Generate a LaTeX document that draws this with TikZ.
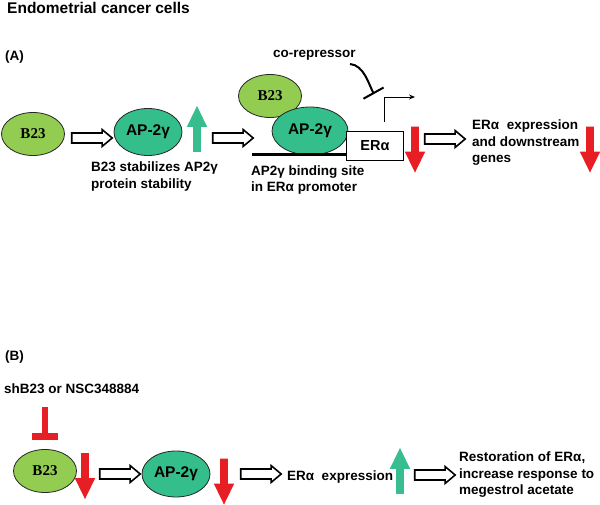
\documentclass[tikz,border=0pt]{standalone}
\usepackage{fontspec}
\setmainfont{Liberation Sans}
\newfontfamily\timesfont{Liberation Serif}
\usetikzlibrary{shapes.geometric,shapes.arrows,arrows.meta}

\definecolor{b23fill}{RGB}{146,204,80}
\definecolor{ap2fill}{RGB}{52,190,140}
\definecolor{upgreen}{RGB}{56,190,142}
\definecolor{downred}{RGB}{232,30,37}
\colorlet{shape edge}{black!85}
\tikzset{
  b23/.style={ellipse, fill=b23fill, draw=shape edge, line width=0.8pt, minimum width=63pt, minimum height=43pt, inner sep=0pt, font=\timesfont\bfseries\fontsize{15}{15}\selectfont},
  ap2/.style={ellipse, fill=ap2fill, draw=shape edge, line width=0.8pt, minimum width=68pt, minimum height=47pt, inner sep=0pt, font=\bfseries\fontsize{15.5}{15.5}\selectfont},
  erbox/.style={rectangle, fill=white, draw=black, line width=1.5pt, minimum width=57pt, minimum height=29pt, font=\bfseries\fontsize{14.5}{14.5}\selectfont},
  txt/.style={anchor=north west, inner sep=0pt, align=left, font=\bfseries\fontsize{13.5}{16.5}\selectfont}
  }
\tikzstyle{openarrow} = [single arrow, draw=black, fill=white, line width=1.6pt, inner sep=4.2pt, minimum height=40.4pt, single arrow head extend=3.5pt, single arrow tip angle=80]
\tikzstyle{blockarrow} = [single arrow, draw=none, inner sep=3.75pt, minimum height=46pt, single arrow head extend=6.25pt, single arrow tip angle=52]
\tikzstyle{downarrow} = [blockarrow, fill=downred, rotate=-90]
\tikzstyle{uparrow} = [blockarrow, fill=upgreen, rotate=90]
\tikzstyle{promoter} = [draw, line width=3pt, -]
\tikzstyle{tssarrow} = [draw, line width=0.9pt, -{Stealth[length=6pt,width=5pt]}]
\tikzstyle{repress} = [draw, line width=2pt, -{Bar[width=23pt]}]
\tikzstyle{inhibit} = [draw=downred, line width=5.5pt, -{Bar[width=26pt,line width=7pt]}]

\begin{document}
\begin{tikzpicture}[x=1pt,y=-1pt]
  \useasboundingbox (0,0) rectangle (600,505);

  % panel A
  \node[txt, anchor=base west, font=\bfseries\fontsize{15.5}{18}\selectfont] (title) at (7,14) {Endometrial cancer cells};
  \node[txt, anchor=base west] (panelA) at (5,61) {(A)};

  \node[b23] (b23a) at (33,134) {B23};
  \node[ap2] (ap2a) at (148,132) {AP-2γ};
  \node[txt] (stab) at (91,162) {B23 stabilizes AP2γ\\protein stability};

  \coordinate (pstart) at (252,155);
  \node[b23] (b23b) at (270,96) {B23};
  \node[ap2, minimum width=76pt, minimum height=48pt] (ap2b) at (310,131) {AP-2γ};
  \node[erbox] (er) at (375,146) {ERα};
  \draw[promoter] (pstart) -- (pstart -| er.west);
  \node[txt] (bind) at (251,165.5) {AP2γ binding site\\in ERα promoter};

  \coordinate (tss) at (384,122);
  \coordinate (tssend) at (415,97);
  \draw[tssarrow] (tss) |- (tssend);

  \node[txt, anchor=base west] (corep) at (273,58) {co-repressor};
  \coordinate (corepstart) at (350,64);
  \coordinate (corepend) at (374,94);
  \draw[repress] (corepstart) .. controls (364,65) and (369,85) .. (corepend);

  \node[txt] (erdown) at (472,120) {ERα\ \ expression\\and downstream\\genes};

  % panel B
  \node[txt, anchor=base west] (panelB) at (5,360) {(B)};
  \node[txt, anchor=base west] (drug) at (4,393) {shB23 or NSC348884};
  \node[b23] (b23c) at (45,471) {B23};
  \coordinate (drugtop) at (45,407);
  \draw[inhibit, shorten >=9.5pt] (drugtop) -- (b23c.north);
  \node[ap2, minimum height=46pt] (ap2c) at (176,474) {AP-2γ};
  \node[txt, anchor=base west] (erexp) at (287,480) {ERα\ \ expression};
  \node[txt] (restore) at (459,452) {Restoration of ERα,\\increase response to\\megestrol acetate};

  % block arrows
  \foreach \pos/\name in {{(89,138)/oa1}, {(230,138)/oa2}, {(442,139)/oa3}, {(117,474)/oa4}, {(258,474)/oa5}, {(432,475)/oa6}} {
    \node[openarrow] (\name) at \pos {};
  }
  \foreach \pos/\name in {{(415,145.5)/ra1}, {(590,145.5)/ra2}, {(85,472)/ra3}, {(224,477.5)/ra4}} {
    \node[downarrow] (\name) at \pos {};
  }
  \foreach \pos/\name in {{(197,133)/ga1}, {(400,475)/ga2}} {
    \node[uparrow] (\name) at \pos {};
  }
\end{tikzpicture}
\end{document}
